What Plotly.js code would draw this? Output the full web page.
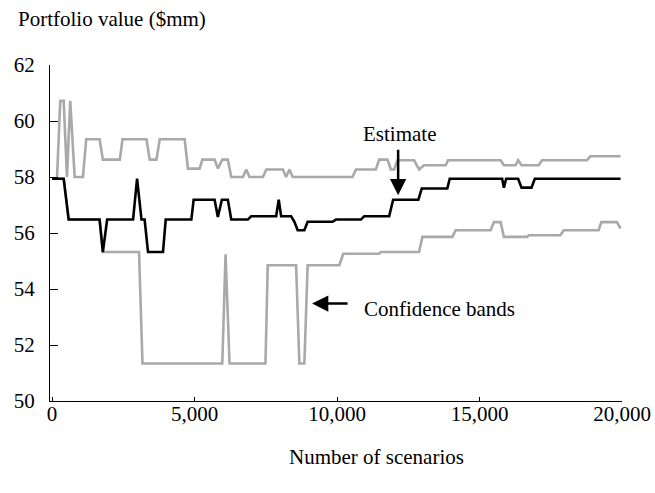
<!DOCTYPE html>
<html>
<head>
<meta charset="utf-8">
<script src="https://cdn.plot.ly/plotly-3.0.1.min.js"></script>
<style>html,body{margin:0;padding:0;background:#fff;}#chart{width:655px;height:493px;}</style>
</head>
<body>
<div id="chart"></div>
<script>
// Estimate (black line)
const estScenarios = [0, 410, 585, 1670, 1785, 1935, 2845, 2985, 3140, 3250, 3370, 3895, 3990, 4890, 4970, 5705, 5820, 5960, 6170, 6290, 6870, 6990, 7865, 7955, 8040, 8390, 8505, 8620, 8855, 8970, 9845, 9965, 10840, 10955, 11830, 11970, 12855, 12975, 13870, 13955, 15795, 15855, 15935, 16355, 16475, 16825, 16940, 19950];
const estValues = [57.94, 57.94, 56.48, 56.48, 55.32, 56.48, 56.48, 57.94, 56.48, 56.48, 55.32, 55.32, 56.48, 56.48, 57.19, 57.19, 56.57, 57.19, 57.19, 56.48, 56.48, 56.6, 56.6, 57.19, 56.6, 56.6, 56.4, 56.1, 56.1, 56.4, 56.4, 56.48, 56.48, 56.6, 56.6, 57.19, 57.19, 57.59, 57.59, 57.94, 57.94, 57.62, 57.94, 57.94, 57.62, 57.62, 57.94, 57.94];

// Upper confidence band (grey)
const upperScenarios = [0, 175, 290, 410, 525, 640, 795, 1085, 1200, 1670, 1785, 2380, 2475, 3315, 3430, 3665, 3780, 4655, 4770, 5180, 5275, 5705, 5820, 5975, 6170, 6290, 6700, 6815, 6930, 7400, 7520, 8100, 8215, 8330, 8445, 10545, 10665, 11365, 11480, 11770, 11890, 12005, 12120, 12705, 12880, 13055, 13815, 13895, 15740, 15855, 16265, 16355, 16475, 17080, 17195, 18770, 18890, 19950];
const upperValues = [57.94, 57.94, 60.72, 60.72, 58.0, 60.72, 58.0, 58.0, 59.35, 59.35, 58.62, 58.62, 59.35, 59.35, 58.62, 58.62, 59.35, 59.35, 58.3, 58.3, 58.62, 58.62, 58.3, 58.62, 58.62, 58.0, 58.0, 58.27, 58.0, 58.0, 58.27, 58.27, 58.0, 58.27, 58.0, 58.0, 58.27, 58.27, 58.62, 58.62, 58.27, 58.27, 58.6, 58.6, 58.27, 58.42, 58.42, 58.6, 58.6, 58.42, 58.42, 58.6, 58.42, 58.42, 58.6, 58.6, 58.74, 58.74];

// Lower confidence band (grey)
const lowerScenarios = [0, 410, 585, 1670, 1785, 3055, 3175, 5975, 6090, 6230, 7490, 7570, 8565, 8680, 8855, 8970, 10080, 10220, 11480, 11540, 12880, 12995, 14045, 14165, 15390, 15505, 15740, 15855, 16670, 16730, 17840, 17955, 19180, 19275, 19820, 19950];
const lowerValues = [57.94, 57.94, 56.48, 56.48, 55.32, 55.32, 51.34, 51.34, 55.24, 51.34, 51.34, 54.85, 54.85, 51.34, 51.34, 54.85, 54.85, 55.26, 55.26, 55.32, 55.32, 55.86, 55.86, 56.1, 56.1, 56.39, 56.39, 55.86, 55.86, 55.92, 55.92, 56.1, 56.1, 56.39, 56.39, 56.16];

const yTicks = [50, 52, 54, 56, 58, 60, 62];
const xTicks = [0, 5000, 10000, 15000, 20000];

const FONT = "'Liberation Serif', 'Times New Roman', Times, serif";
const GREY = "#a9a9a9";

const traces = [
  {x: upperScenarios, y: upperValues, mode: "lines", line: {color: GREY, width: 2.6}, name: "Upper band"},
  {x: lowerScenarios, y: lowerValues, mode: "lines", line: {color: GREY, width: 2.6}, name: "Lower band"},
  {x: estScenarios, y: estValues, mode: "lines", line: {color: "#000000", width: 2.6}, name: "Estimate"}
];

const layout = {
  width: 655, height: 493,
  margin: {l: 50, r: 33, t: 65, b: 92},
  paper_bgcolor: "#ffffff", plot_bgcolor: "#ffffff",
  showlegend: false,
  font: {family: FONT, size: 21, color: "#000"},
  xaxis: {
    range: [-70, 20000], tickvals: xTicks, tickformat: ",d",
    ticks: "inside", ticklen: 4, tickwidth: 1, tickcolor: "#000",
    showline: true, linecolor: "#000", linewidth: 1,
    showgrid: false, zeroline: false,
    ticklabelstandoff: -6,
    tickfont: {family: FONT, size: 21, color: "#000"}
  },
  yaxis: {
    range: [50, 62], tickvals: yTicks,
    ticks: "inside", ticklen: 8, tickwidth: 1, tickcolor: "#000",
    showline: true, linecolor: "#000", linewidth: 1,
    showgrid: false, zeroline: false,
    ticklabelstandoff: 10,
    tickfont: {family: FONT, size: 21, color: "#000"}
  },
  annotations: [
    {xref: "paper", yref: "paper", x: -0.0592, y: 1.137, xanchor: "left", yanchor: "middle",
     text: "Portfolio value ($mm)", showarrow: false, font: {family: FONT, size: 21, color: "#000"}},
    {xref: "paper", yref: "paper", x: 0.5706, y: -0.1667, xanchor: "center", yanchor: "middle",
     text: "Number of scenarios", showarrow: false, font: {family: FONT, size: 21, color: "#000"}},
    {x: 12198, y: 59.52, xanchor: "center", yanchor: "middle", text: "Estimate", showarrow: false,
     font: {family: FONT, size: 21, color: "#000"}},
    {x: 12145, y: 57.35, ax: 0, ay: -47, text: "", showarrow: true, arrowhead: 2, arrowsize: 1.3,
     arrowwidth: 2.5, arrowcolor: "#000", standoff: 0},
    {x: 10875, y: 53.27, xanchor: "left", yanchor: "middle", text: "Confidence bands", showarrow: false,
     font: {family: FONT, size: 21, color: "#000"}},
    {x: 9125, y: 53.48, ax: 37, ay: 0, text: "", showarrow: true, arrowhead: 2, arrowsize: 1.3,
     arrowwidth: 2.5, arrowcolor: "#000", standoff: 0}
  ]
};

Plotly.newPlot("chart", traces, layout, {displayModeBar: false, staticPlot: true});
</script>
</body>
</html>
